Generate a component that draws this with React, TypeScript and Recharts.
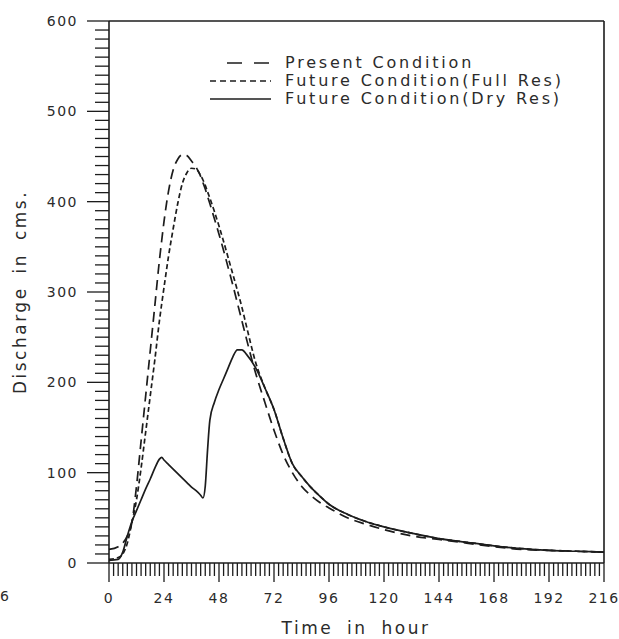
import { LineChart, Line, XAxis, YAxis, ReferenceLine } from "recharts";

const hours = [
  0, 4, 6, 8, 10, 12, 14, 16, 18, 20, 22, 23, 24, 26, 28, 30, 32, 34, 36, 38,
  40, 41, 42, 43, 44, 46, 48, 50, 52, 54, 56, 58, 60, 64, 68, 72, 76, 80, 84,
  88, 92, 96, 104, 112, 120, 132, 144, 156, 168, 180, 192, 204, 216,
];

const presentCondition = [
  15, 18, 22, 30, 45, 85, 135, 185, 235, 285, 335, 357, 378, 412, 435, 447,
  452, 451, 445, 438, 428, 421, 414, 406, 398, 381, 364, 346, 327, 308, 288,
  268, 248, 210, 178, 147, 120, 100, 85, 75, 67, 61, 50, 43, 37, 30, 26, 22,
  18, 15, 14, 13, 12,
];

const futureFullRes = [
  4, 6, 10, 22, 45, 70, 105, 145, 185, 225, 268, 287, 305, 340, 370, 398, 420,
  432, 437, 436, 429, 424, 418, 411, 404, 389, 373, 356, 338, 320, 302, 283,
  262, 222, 194, 170, 138, 110, 96, 84, 74, 65, 54, 46, 40, 33, 27, 23, 19, 16,
  14, 13, 12,
];

const futureDryRes = [
  3, 4, 12, 30, 46, 58, 70, 82, 93, 105, 115, 117, 114, 109, 104, 99, 94, 89,
  84, 80, 75, 72, 85, 125, 158, 178, 192, 204, 216, 228, 236, 236, 231, 216,
  194, 170, 138, 110, 96, 84, 74, 65, 54, 46, 40, 33, 27, 23, 19, 16, 14, 13,
  12,
];

const xMajorTicks = [0, 24, 48, 72, 96, 120, 144, 168, 192, 216];
const yMajorTicks = [0, 100, 200, 300, 400, 500, 600];
const xMinorStep = 2;
const yMinorStep = 10;

const xTicks = Array.from({ length: 216 / xMinorStep + 1 }, (_, i) => i * xMinorStep);
const yTicks = Array.from({ length: 600 / yMinorStep + 1 }, (_, i) => i * yMinorStep);

const data = hours.map((hour, i) => ({
  hour,
  present: presentCondition[i],
  fullRes: futureFullRes[i],
  dryRes: futureDryRes[i],
}));

const series = [
  { key: "present", name: "Present Condition", dash: "10 6", legendDash: "15 12" },
  { key: "fullRes", name: "Future Condition(Full Res)", dash: "5 3", legendDash: "6 4" },
  { key: "dryRes", name: "Future Condition(Dry Res)", dash: undefined, legendDash: undefined },
];

const ink = "#1c1c1c";
const textInk = "#2b2b2b";
const font = "'DejaVu Sans', sans-serif";

function XTick(props: any) {
  const { x, y, payload } = props;
  const major = xMajorTicks.includes(payload.value);
  return (
    <g>
      <line x1={x} x2={x} y1={y} y2={y + (major ? 19 : 13)} stroke={ink} strokeWidth={1.3} />
      {major && (
        <text
          x={x}
          y={y + 40}
          textAnchor="middle"
          fontFamily={font}
          fontSize={14}
          letterSpacing={1.5}
          fill={textInk}
        >
          {payload.value}
        </text>
      )}
    </g>
  );
}

function YTick(props: any) {
  const { x, y, payload } = props;
  const major = yMajorTicks.includes(payload.value);
  return (
    <g>
      <line x1={x - (major ? 22 : 14)} x2={x} y1={y} y2={y} stroke={ink} strokeWidth={1.3} />
      {major && (
        <text
          x={x - 31}
          y={y + 5}
          textAnchor="end"
          fontFamily={font}
          fontSize={14}
          letterSpacing={1.5}
          fill={textInk}
        >
          {payload.value}
        </text>
      )}
    </g>
  );
}

function LegendBox() {
  return (
    <div
      style={{
        position: "absolute",
        left: 205,
        top: 54,
        fontFamily: font,
        fontSize: 16,
        letterSpacing: 2.8,
        color: textInk,
      }}
    >
      {series.map((s) => (
        <div key={s.key} style={{ display: "flex", alignItems: "center", height: 18 }}>
          <svg width={80} height={18}>
            <line
              x1={s.key === "present" ? 22 : 5}
              x2={66}
              y1={9}
              y2={9}
              stroke={ink}
              strokeWidth={1.6}
              strokeDasharray={s.legendDash}
            />
          </svg>
          <span style={{ whiteSpace: "nowrap", lineHeight: "18px" }}>{s.name}</span>
        </div>
      ))}
    </div>
  );
}

export default function App() {
  return (
    <div
      style={{
        position: "absolute",
        left: 0,
        top: 0,
        width: 619,
        height: 639,
        background: "#fff",
        overflow: "hidden",
      }}
    >
      <LineChart
        width={619}
        height={639}
        data={data}
        margin={{ top: 21, right: 15, bottom: 36, left: 49 }}
      >
        <XAxis
          type="number"
          dataKey="hour"
          domain={[0, 216]}
          ticks={xTicks}
          interval={0}
          tickLine={false}
          tickSize={0}
          tickMargin={0}
          tick={<XTick />}
          axisLine={{ stroke: ink, strokeWidth: 1.6 }}
          height={40}
          label={() => (
            <text
              x={356}
              y={634}
              textAnchor="middle"
              fontFamily={font}
              fontSize={17}
              letterSpacing={2.5}
              wordSpacing={6}
              fill={textInk}
            >
              Time in hour
            </text>
          )}
        />
        <YAxis
          type="number"
          domain={[0, 600]}
          ticks={yTicks}
          interval={0}
          tickLine={false}
          tickSize={0}
          tickMargin={0}
          tick={<YTick />}
          axisLine={{ stroke: ink, strokeWidth: 1.6 }}
          width={60}
          label={() => (
            <text
              transform="translate(26,292) rotate(-90)"
              textAnchor="middle"
              fontFamily={font}
              fontSize={17}
              letterSpacing={2.5}
              wordSpacing={5}
              fill={textInk}
            >
              Discharge in cms.
            </text>
          )}
        />
        <ReferenceLine y={600} stroke={ink} strokeWidth={1.6} />
        <ReferenceLine x={216} stroke={ink} strokeWidth={1.6} />
        {series.map((s) => (
          <Line
            key={s.key}
            type="monotone"
            dataKey={s.key}
            name={s.name}
            stroke={ink}
            strokeWidth={1.7}
            strokeDasharray={s.dash}
            dot={false}
            activeDot={false}
            isAnimationActive={false}
          />
        ))}
      </LineChart>
      <LegendBox />
      <div
        style={{
          position: "absolute",
          left: 0,
          top: 588,
          fontFamily: font,
          fontSize: 14,
          color: textInk,
        }}
      >
        6
      </div>
    </div>
  );
}
